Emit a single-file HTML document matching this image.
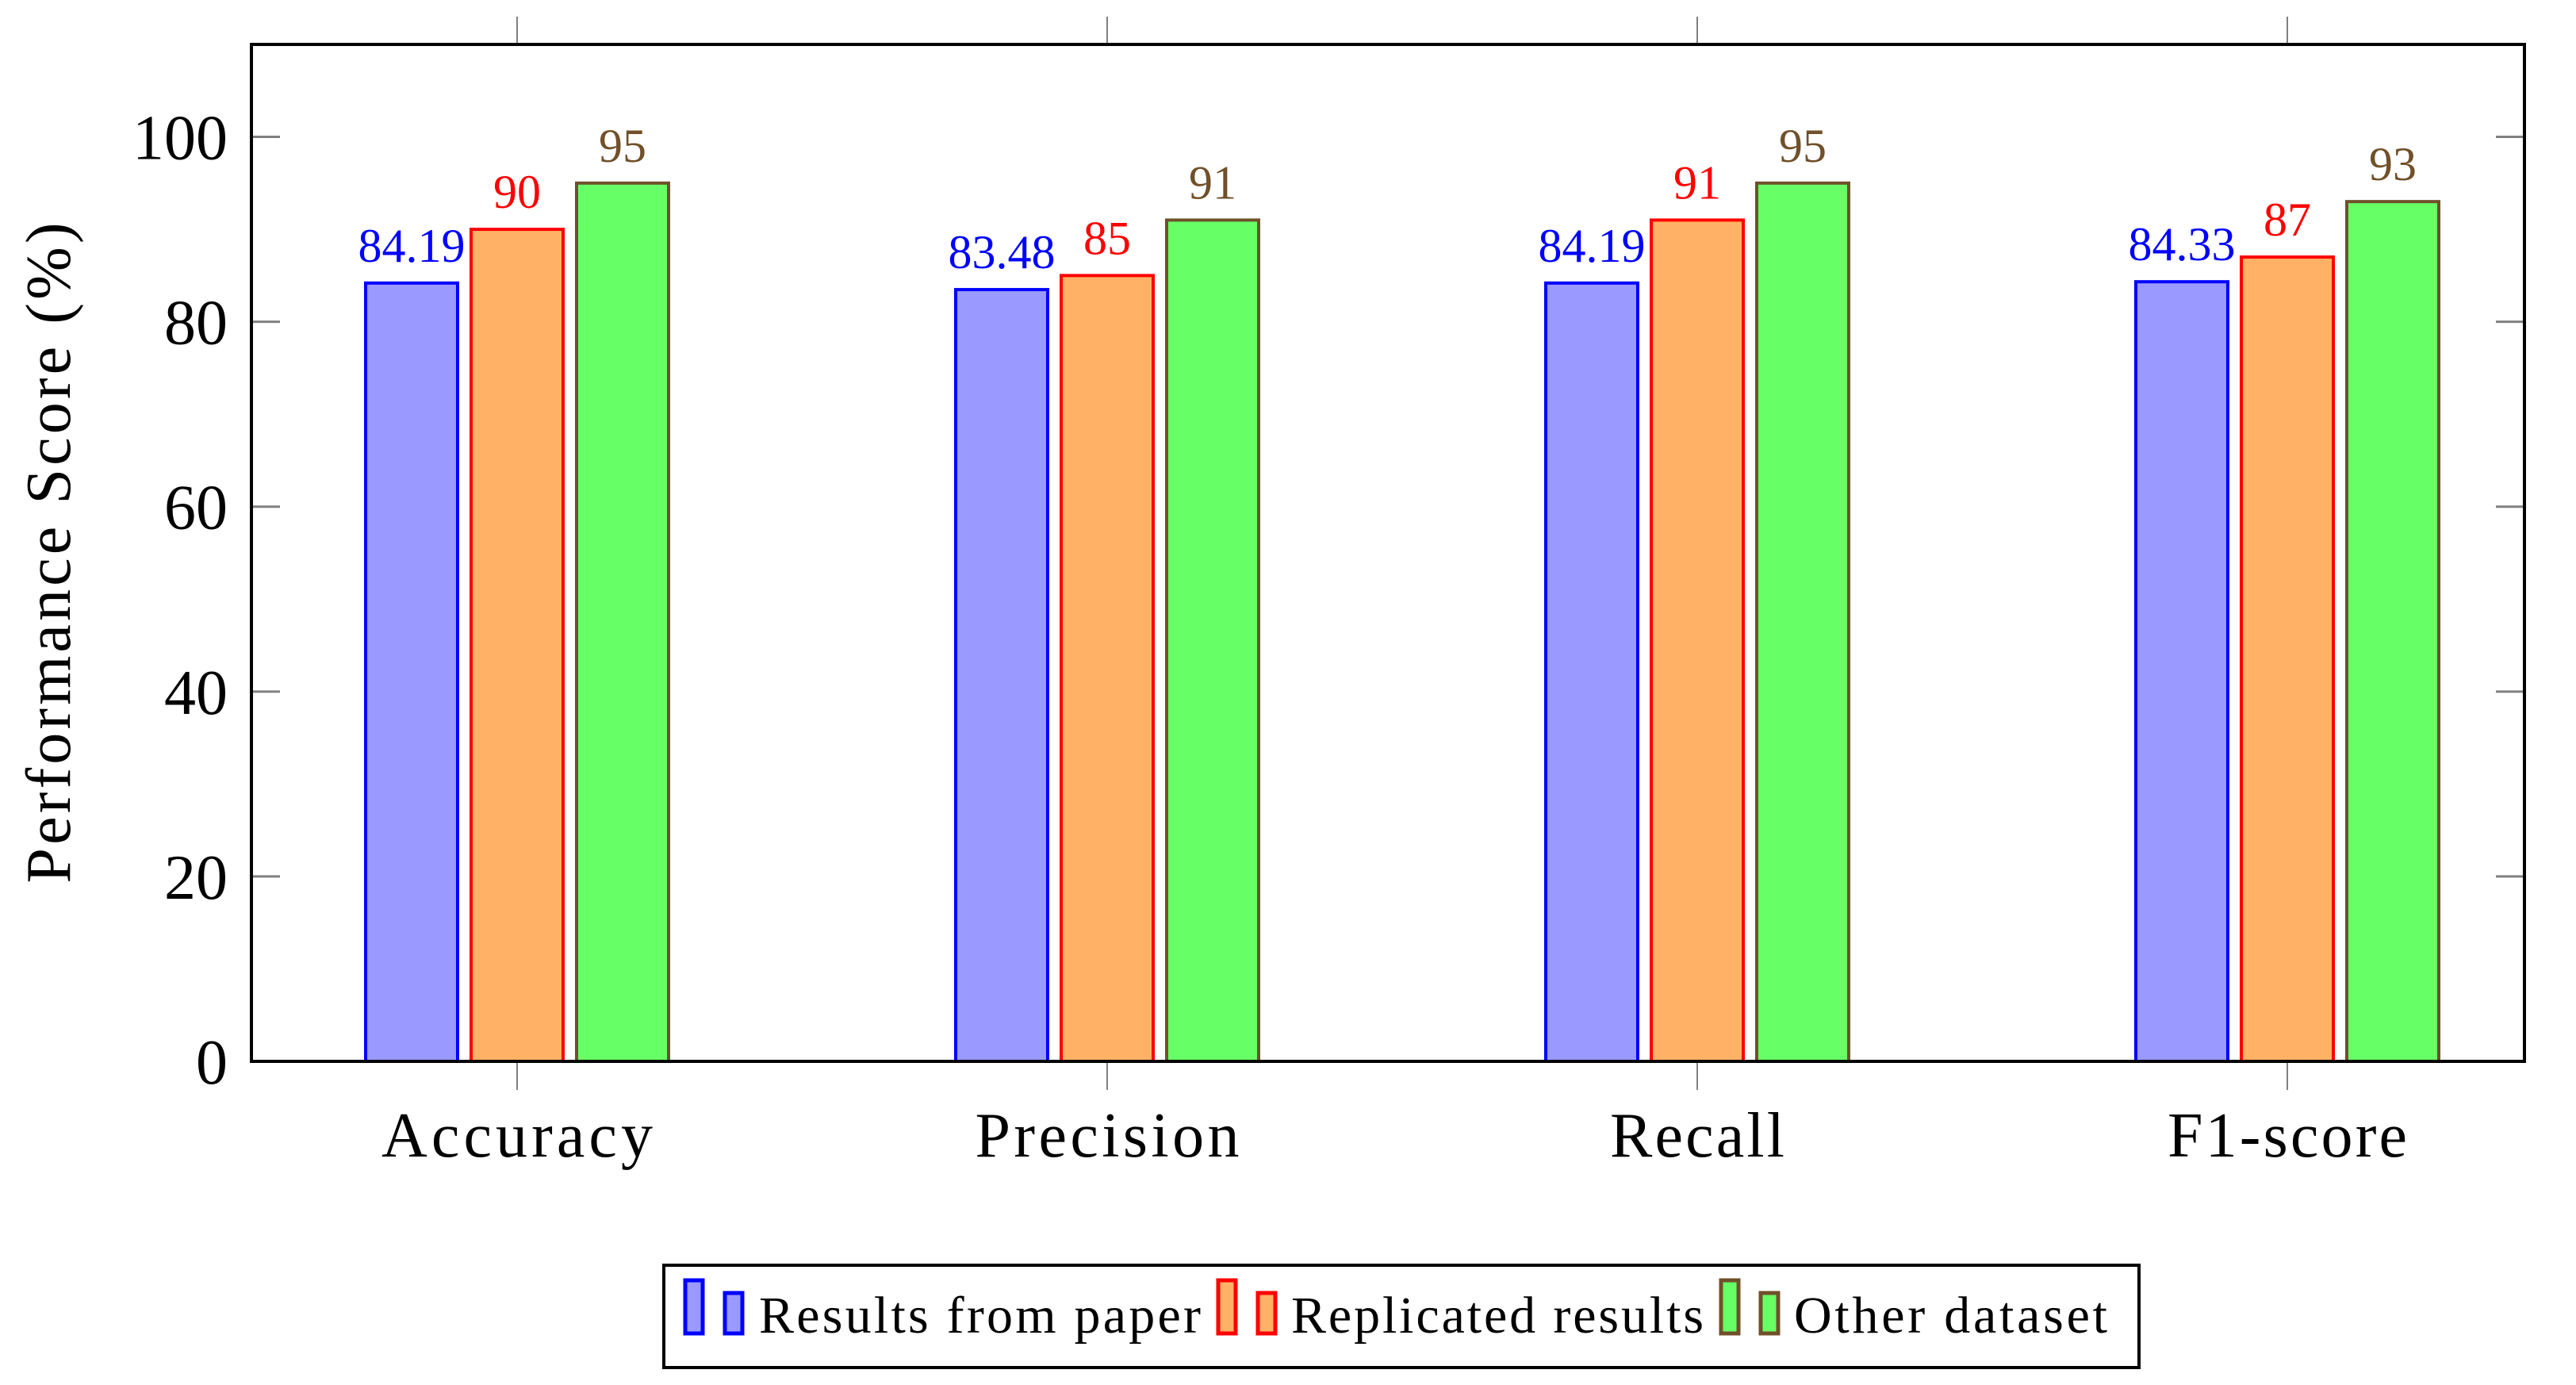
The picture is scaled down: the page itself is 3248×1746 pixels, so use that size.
<!DOCTYPE html>
<html><head><meta charset="utf-8"><style>
html,body{margin:0;padding:0;background:#fff;}
svg{display:block;font-family:"Liberation Serif",serif;}
</style></head><body>
<svg id="chart" width="3248" height="1746" viewBox="0 0 3248 1746" xmlns="http://www.w3.org/2000/svg">
<g id="ticks"></g>
<g id="bars"></g>
<g id="labels"></g>
<rect x="317" y="56" width="2866" height="1282" fill="none" stroke="#000" stroke-width="4"/>
<g id="yticklabels"></g>
<g id="xticklabels"></g>
<text transform="translate(88,697) rotate(-90)" text-anchor="middle" font-size="80" textLength="833" lengthAdjust="spacing">Performance Score (%)</text>
<g>
<rect x="837" y="1595" width="1860" height="129" fill="#fff" stroke="#000" stroke-width="4"/>
<g>
<rect x="864" y="1614" width="22" height="67" fill="#9999ff" stroke="#0000ff" stroke-width="5"/>
<rect x="914" y="1630" width="22" height="51" fill="#9999ff" stroke="#0000ff" stroke-width="5"/>
<text x="957" y="1680" font-size="66" textLength="557" lengthAdjust="spacing">Results from paper</text></g>
<g>
<rect x="1536" y="1614" width="22" height="67" fill="#ffb266" stroke="#ff0000" stroke-width="5"/>
<rect x="1586" y="1630" width="22" height="51" fill="#ffb266" stroke="#ff0000" stroke-width="5"/>
<text x="1628" y="1680" font-size="66" textLength="520" lengthAdjust="spacing">Replicated results</text></g>
<g>
<rect x="2170" y="1614" width="22" height="67" fill="#66ff66" stroke="#70502a" stroke-width="5"/>
<rect x="2220" y="1630" width="22" height="51" fill="#66ff66" stroke="#70502a" stroke-width="5"/>
<text x="2262" y="1680" font-size="66" textLength="395" lengthAdjust="spacing">Other dataset</text></g>
</g>
</svg>
<script>
const categories = ["Accuracy","Precision","Recall","F1-score"];
const paperValues = [84.19, 83.48, 84.19, 84.33];
const replicatedValues = [90, 85, 91, 87];
const otherValues = [95, 91, 95, 93];
const paperLabels = ["84.19","83.48","84.19","84.33"];
const replicatedLabels = ["90","85","91","87"];
const otherLabels = ["95","91","95","93"];
const yTicks = [0,20,40,60,80,100];

const NS="http://www.w3.org/2000/svg";
const L=317,R=3183,T=56,B=1338,YMAX=110;
const catTextLen={"Accuracy":342,"Precision":333,"Recall":220,"F1-score":302};
function y(v){return B-(v/YMAX)*(B-T);}
function xc(i){return 652+i*744;}
function mk(tag,attrs,parent){const e=document.createElementNS(NS,tag);for(const k in attrs)e.setAttribute(k,attrs[k]);parent.appendChild(e);return e;}
const gT=document.getElementById('ticks'),gB=document.getElementById('bars'),gL=document.getElementById('labels'),gY=document.getElementById('yticklabels'),gX=document.getElementById('xticklabels');
yTicks.forEach(t=>{
  const a=mk('line',{x1:L,x2:L+36,y1:y(t),y2:y(t),stroke:'#808080','stroke-width':3},gT);
  
  
  const b=mk('line',{x1:R-36,x2:R,y1:y(t),y2:y(t),stroke:'#808080','stroke-width':3},gT);
  
  
  const tx=mk('text',{x:287,y:y(t)+28,'text-anchor':'end','font-size':80},gY);
  tx.textContent=String(t);
  
  
});
const series=[
 {vals:paperValues,labs:paperLabels,fill:'#9999ff',stroke:'#0000ff',off:-133,name:'paper'},
 {vals:replicatedValues,labs:replicatedLabels,fill:'#ffb266',stroke:'#ff0000',off:0,name:'replicated'},
 {vals:otherValues,labs:otherLabels,fill:'#66ff66',stroke:'#70502a',off:133,name:'other'}];
categories.forEach((c,i)=>{
  const a=mk('line',{x1:xc(i),x2:xc(i),y1:B,y2:B+36,stroke:'#808080','stroke-width':2},gT);
  
  
  const b=mk('line',{x1:xc(i),x2:xc(i),y1:T-35,y2:T,stroke:'#808080','stroke-width':2},gT);
  
  
  const attrs={x:xc(i),y:1458,'text-anchor':'middle','font-size':80};
  if(catTextLen[c]){attrs.textLength=catTextLen[c];attrs.lengthAdjust='spacing';}
  const tx=mk('text',attrs,gX);
  tx.textContent=c;
  
  
  series.forEach(s=>{
    const cx=xc(i)+s.off,top=y(s.vals[i]);
    const r=mk('rect',{x:cx-58,y:top,width:116,height:B-top,fill:s.fill,stroke:s.stroke,'stroke-width':4},gB);
    
    
    const t=mk('text',{x:cx,y:top-27,'text-anchor':'middle','font-size':60,fill:s.stroke},gL);
    t.textContent=s.labs[i];
    
    
  });
});
</script>
</body></html>
